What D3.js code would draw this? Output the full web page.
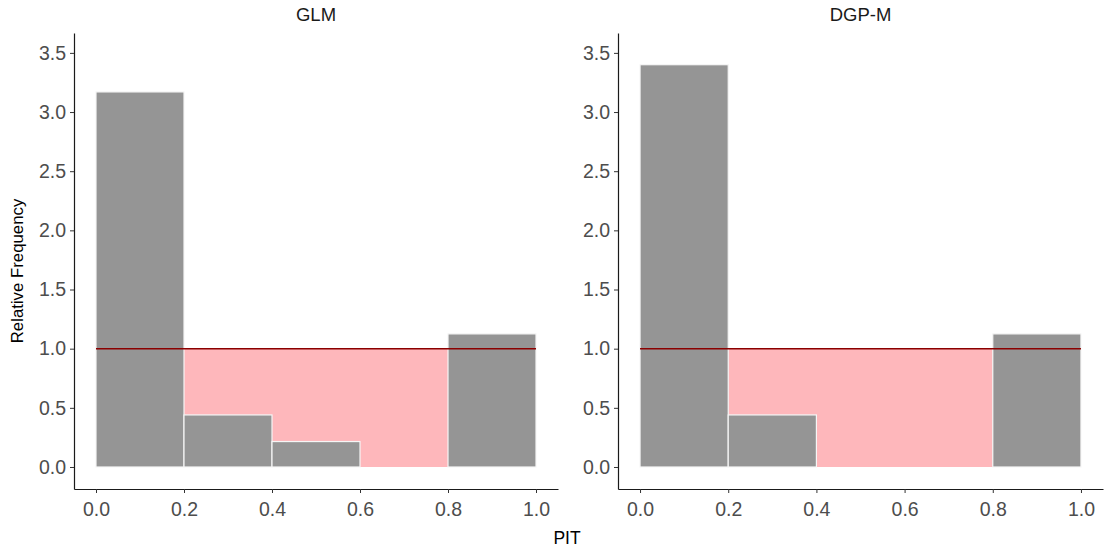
<!DOCTYPE html>
<html>
<head>
<meta charset="utf-8">
<script src="https://cdn.jsdelivr.net/npm/d3@7"></script>
<style>
  body { margin: 0; background: #fff; }
  svg text { font-family: "Liberation Sans", Arial, sans-serif; }
</style>
</head>
<body>
<svg id="chart" width="1104" height="549"></svg>
<script>
// data
var panels = ["GLM", "DGP-M"];
var binEdges = [0, 0.2, 0.4, 0.6, 0.8, 1.0];
var glmFreq = [3.17, 0.44, 0.215, 0, 1.125];
var dgpFreq = [3.40, 0.44, 0, 0, 1.125];
var bandX = [0.2, 0.8];
var refLevel = 1;
var xTicks = [0, 0.2, 0.4, 0.6, 0.8, 1.0];
var yTicks = [0, 0.5, 1, 1.5, 2, 2.5, 3, 3.5];

var series = [glmFreq, dgpFreq];

var svg = d3.select("#chart");

// panel layout (axis left edge, right edge)
var panelBox = [
  {left: 74, right: 558},
  {left: 618, right: 1103}
];
var plotTop = 33, plotBottom = 489;

var y = d3.scaleLinear()
  .domain([-0.186, 3.668])
  .range([plotBottom, plotTop]);

panels.forEach(function(name, p) {
  var box = panelBox[p];
  var x = d3.scaleLinear()
    .domain([-0.05, 1.05])
    .range([box.left, box.right]);

  var g = svg.append("g");

  // pink band under the reference line
  g.append("rect")
    .attr("x", x(bandX[0]))
    .attr("y", y(refLevel))
    .attr("width", x(bandX[1]) - x(bandX[0]))
    .attr("height", y(0) - y(refLevel))
    .style("fill", "#feb7bb");

  // histogram bars
  var bins = series[p].map(function(v, i) {
    return {x0: binEdges[i], x1: binEdges[i + 1], v: v};
  }).filter(function(d) { return d.v > 0; });

  g.selectAll("rect.bar")
    .data(bins)
    .enter()
    .append("rect")
    .attr("class", "bar")
    .attr("x", function(d) { return x(d.x0); })
    .attr("y", function(d) { return y(d.v); })
    .attr("width", function(d) { return x(d.x1) - x(d.x0); })
    .attr("height", function(d) { return y(0) - y(d.v); })
    .style("fill", "#959595")
    .style("stroke", "#f6f6f6")
    .style("stroke-width", 1.2);

  // reference line
  g.append("line")
    .attr("x1", x(0))
    .attr("x2", x(1))
    .attr("y1", y(refLevel))
    .attr("y2", y(refLevel))
    .style("stroke", "#8b0000")
    .style("stroke-width", 1.5);

  // axes
  var xAxis = g.append("g")
    .attr("transform", "translate(0," + plotBottom + ")")
    .call(d3.axisBottom(x).tickValues(xTicks).tickFormat(d3.format(".1f")).tickSizeInner(4).tickSizeOuter(0).tickPadding(4));

  var yAxis = g.append("g")
    .attr("transform", "translate(" + box.left + ",0)")
    .call(d3.axisLeft(y).tickValues(yTicks).tickFormat(d3.format(".1f")).tickSizeInner(4).tickSizeOuter(0).tickPadding(4));

  [xAxis, yAxis].forEach(function(a) {
    a.select(".domain").style("stroke", "#1a1a1a").style("stroke-width", 1.2);
    a.selectAll(".tick line").style("stroke", "#333");
    a.selectAll(".tick text")
      .style("font-size", "19.5px")
      .style("fill", "#4d4d4d");
  });
  xAxis.selectAll(".tick text").attr("dy", "0.95em");

  // facet title
  svg.append("text")
    .attr("x", x(0.5))
    .attr("y", 21)
    .attr("text-anchor", "middle")
    .style("font-size", "18.5px")
    .style("fill", "#1a1a1a")
    .text(name);
});

// axis titles
svg.append("text")
  .attr("x", 567)
  .attr("y", 544)
  .attr("text-anchor", "middle")
  .style("font-size", "17.5px")
  .text("PIT");

svg.append("text")
  .attr("transform", "translate(23,271) rotate(-90)")
  .attr("text-anchor", "middle")
  .style("font-size", "16.8px")
  .text("Relative Frequency");
</script>
</body>
</html>
